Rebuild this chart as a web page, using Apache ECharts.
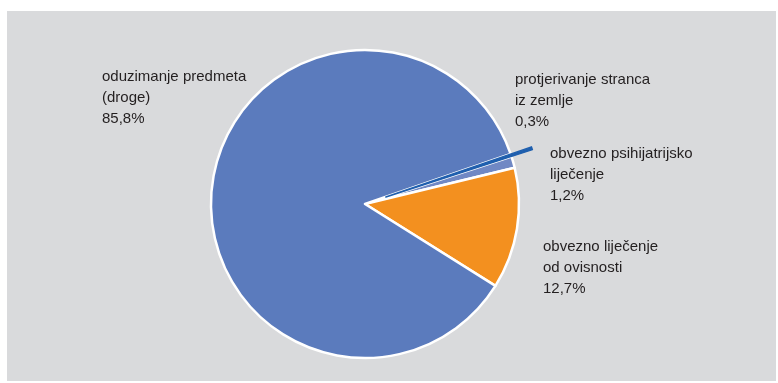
<!DOCTYPE html>
<html>
<head>
<meta charset="utf-8">
<script src="https://cdn.jsdelivr.net/npm/echarts@6/dist/echarts.min.js"></script>
<style>
html,body{margin:0;padding:0;background:#ffffff;width:778px;height:383px;overflow:hidden;}
#c{position:absolute;left:7px;top:11px;width:769px;height:370px;}
</style>
</head>
<body>
<div id="c"></div>
<script>
const categories = [
  'protjerivanje stranca\niz zemlje',
  'obvezno psihijatrijsko\nliječenje',
  'obvezno liječenje\nod ovisnosti',
  'oduzimanje predmeta\n(droge)'
];
const shares = [0.3, 1.2, 12.7, 85.8];
const colors = ['#1f5fae', '#7088c4', '#f3901f', '#5b7bbd'];
const labelPos = [[508, 58], [543, 132], [536, 225], [95, 55]];
const explodedIndex = 0;

const center = [358, 193];
const startAngle = 19;
const midAngle = (startAngle - shares[0] * 3.6 / 2) * Math.PI / 180;
const explode = 22;
const center2 = [center[0] + explode * Math.cos(midAngle), center[1] - explode * Math.sin(midAngle)];

const fmt = p => p.name + '\n' + p.value.toFixed(1).replace('.', ',') + '%';
const labelStyle = {
  show: true,
  color: '#231f20',
  fontFamily: 'Liberation Sans, Arial, sans-serif',
  fontSize: 15,
  lineHeight: 21,
  formatter: fmt
};

const chart = echarts.init(document.getElementById('c'), null, {renderer: 'canvas'});
chart.setOption({
  backgroundColor: '#d9dadc',
  animation: false,
  series: [{
    type: 'pie',
    center: center,
    radius: 154,
    startAngle: startAngle,
    clockwise: true,
    avoidLabelOverlap: false,
    emphasis: {disabled: true},
    itemStyle: {borderColor: '#ffffff', borderWidth: 2.5},
    label: labelStyle,
    labelLine: {show: false},
    labelLayout: p => ({
      x: labelPos[p.dataIndex][0],
      y: labelPos[p.dataIndex][1],
      align: 'left',
      verticalAlign: 'top'
    }),
    data: categories.map((c, i) => ({
      name: c,
      value: shares[i],
      itemStyle: i === explodedIndex
        ? {color: 'rgba(0,0,0,0)', borderWidth: 0}
        : {color: colors[i]}
    }))
  }, {
    type: 'pie',
    center: center2,
    radius: 154,
    startAngle: startAngle,
    clockwise: true,
    silent: true,
    emphasis: {disabled: true},
    label: {show: false},
    labelLine: {show: false},
    data: categories.map((c, i) => ({
      name: c,
      value: shares[i],
      itemStyle: i === explodedIndex
        ? {color: colors[i], borderColor: colors[i], borderWidth: 1.5}
        : {color: 'rgba(0,0,0,0)', borderWidth: 0}
    }))
  }]
});
</script>
</body>
</html>
